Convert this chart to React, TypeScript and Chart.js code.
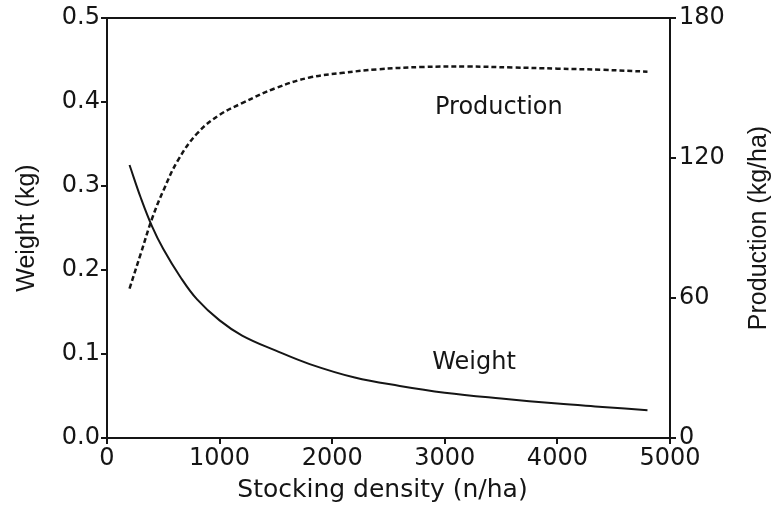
import React, { useEffect, useRef } from "react";
import { Chart, registerables } from "chart.js";

Chart.register(...registerables);

// Weight curve (solid), left axis
const weightDensity = [200, 300, 400, 500, 650, 800, 1000, 1200, 1500, 1800, 2200, 2600, 3000, 3500, 4000, 4400, 4800];
const weightValues = [0.325, 0.286, 0.252, 0.225, 0.192, 0.165, 0.14, 0.122, 0.104, 0.088, 0.072, 0.062, 0.054, 0.047, 0.041, 0.037, 0.033];

// Production curve (dashed), right axis
const productionDensity = [200, 300, 400, 500, 630, 800, 1000, 1200, 1500, 1800, 2100, 2400, 2800, 3200, 3600, 4000, 4400, 4800];
const productionValues = [64, 79, 94, 106, 119, 130.5, 138.5, 143.5, 150, 154.5, 156.5, 158, 159, 159.2, 158.8, 158.3, 157.8, 157];

// Axis ticks
const xTicks = [0, 1000, 2000, 3000, 4000, 5000];
const weightTicks = [0, 0.1, 0.2, 0.3, 0.4, 0.5];
const productionTicks = [0, 60, 120, 180];

// In-plot curve labels: [text, density, value on its axis, axis id]
const curveLabels: [string, number, number, string][] = [
  ["Production", 3480, 141.5, "yP"],
  ["Weight", 3260, 0.089, "yW"],
];

const xTitle = "Stocking density (n/ha)";
const rightTitle = "Production (kg/ha)";

const INK = "#151515";
const SANS = "'DejaVu Sans', 'Liberation Sans', sans-serif";
const ARIAL = "'Liberation Sans', Arial, sans-serif";

export default function App() {
  const ref = useRef<HTMLCanvasElement | null>(null);

  useEffect(() => {
    if (!ref.current) return;

    const framePlugin = {
      id: "frame",
      afterDraw(chart: any) {
        const { ctx, chartArea } = chart;
        ctx.save();
        ctx.strokeStyle = INK;
        ctx.lineWidth = 2;
        ctx.beginPath();
        ctx.moveTo(chartArea.left, chartArea.top);
        ctx.lineTo(chartArea.right, chartArea.top);
        ctx.stroke();
        ctx.fillStyle = INK;
        ctx.textAlign = "center";
        ctx.textBaseline = "middle";
        // x-axis title
        ctx.font = `25px ${SANS}`;
        ctx.fillText(xTitle, (chartArea.left + chartArea.right) / 2 - 6, 490);
        // right-axis title, reading bottom to top
        ctx.font = `25px ${ARIAL}`;
        ctx.translate(759, (chartArea.top + chartArea.bottom) / 2);
        ctx.rotate(-Math.PI / 2);
        ctx.fillText(rightTitle, 0, 0);
        ctx.restore();
      },
      afterDatasetsDraw(chart: any) {
        const { ctx } = chart;
        ctx.save();
        ctx.fillStyle = INK;
        ctx.font = `24px ${SANS}`;
        ctx.textAlign = "center";
        ctx.textBaseline = "middle";
        curveLabels.forEach(([text, x, y, axis]) => {
          const px = chart.scales.x.getPixelForValue(x);
          const py = chart.scales[axis].getPixelForValue(y);
          ctx.fillText(text, px, py);
        });
        ctx.restore();
      },
    };

    const tickFont = { family: SANS, size: 24 };

    const chart = new Chart(ref.current, {
      type: "line",
      data: {
        datasets: [
          {
            label: "Weight",
            data: weightDensity.map((x, i) => ({ x, y: weightValues[i] })),
            yAxisID: "yW",
            borderColor: INK,
            borderWidth: 2,
            pointRadius: 0,
            fill: false,
            tension: 0.4,
          },
          {
            label: "Production",
            data: productionDensity.map((x, i) => ({ x, y: productionValues[i] })),
            yAxisID: "yP",
            borderColor: INK,
            borderWidth: 2.5,
            borderDash: [5, 3],
            pointRadius: 0,
            fill: false,
            tension: 0.4,
          },
        ],
      },
      options: {
        responsive: false,
        animation: false,
        layout: { padding: { top: 18, left: 0, right: 0, bottom: 0 } },
        plugins: { legend: { display: false }, tooltip: { enabled: false } },
        scales: {
          x: {
            type: "linear",
            min: 0,
            max: 5000,
            afterBuildTicks: (s: any) => {
              s.ticks = xTicks.map((v) => ({ value: v }));
            },
            afterFit: (s: any) => {
              s.height = 74;
            },
            ticks: {
              color: INK,
              font: tickFont,
              padding: 0,
              maxRotation: 0,
              autoSkip: false,
              callback: (v: any) => String(v),
            },
            grid: { drawOnChartArea: false, drawTicks: true, tickLength: 6, color: INK, lineWidth: 2 },
            border: { display: true, color: INK, width: 2 },
            title: { display: false },
          },
          yW: {
            type: "linear",
            position: "left",
            min: 0,
            max: 0.5,
            afterBuildTicks: (s: any) => {
              s.ticks = weightTicks.map((v) => ({ value: v }));
            },
            afterFit: (s: any) => {
              s.width = 107;
            },
            ticks: {
              color: INK,
              font: tickFont,
              padding: 1,
              callback: (v: any) => Number(v).toFixed(1),
            },
            grid: { drawOnChartArea: false, drawTicks: true, tickLength: 6, color: INK, lineWidth: 2 },
            border: { display: true, color: INK, width: 2 },
            title: {
              display: true,
              text: "Weight (kg)",
              color: INK,
              font: { family: ARIAL, size: 25 },
              padding: { top: 12, bottom: 0 },
            },
          },
          yP: {
            type: "linear",
            position: "right",
            min: 0,
            max: 180,
            afterBuildTicks: (s: any) => {
              s.ticks = productionTicks.map((v) => ({ value: v }));
            },
            afterFit: (s: any) => {
              s.width = 105;
            },
            ticks: { color: INK, font: tickFont, padding: 3, callback: (v: any) => String(v) },
            grid: { drawOnChartArea: false, drawTicks: true, tickLength: 6, color: INK, lineWidth: 2 },
            border: { display: true, color: INK, width: 2 },
            title: { display: false },
          },
        },
      },
      plugins: [framePlugin],
    } as any);

    return () => chart.destroy();
  }, []);

  return (
    <div style={{ position: "absolute", left: 0, top: 0, width: 775, height: 512, background: "#fff" }}>
      <canvas ref={ref} width={775} height={512} style={{ display: "block", width: 775, height: 512 }} />
    </div>
  );
}
